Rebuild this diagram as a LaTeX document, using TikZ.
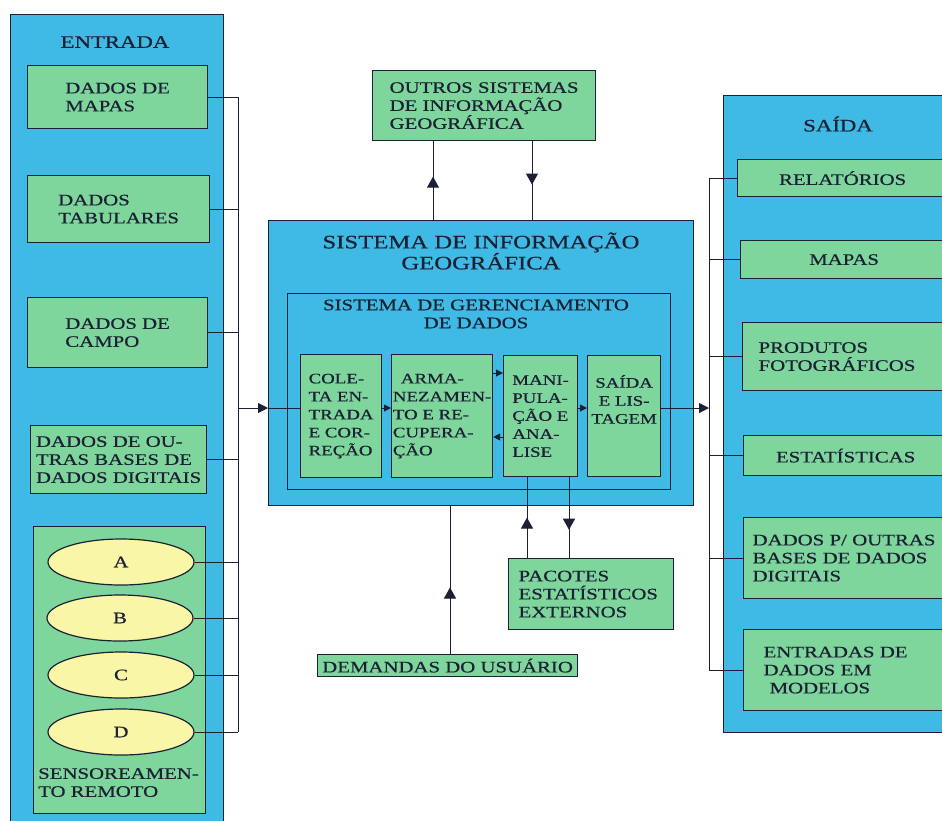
\documentclass[tikz,border=0pt]{standalone}
\usepackage{fontspec}
\setmainfont{Liberation Serif}[FakeStretch=1.3, FakeBold=0.6]
\usetikzlibrary{arrows.meta,decorations.markings,shapes.geometric,positioning}

\definecolor{panelblue}{RGB}{62,186,228}
\definecolor{boxgreen}{RGB}{126,214,156}
\definecolor{ovalyellow}{RGB}{250,246,168}
\definecolor{inkblue}{RGB}{28,32,52}

\newcommand{\gisfont}{\fontsize{16}{18}\selectfont}
\newcommand{\gissmall}{\fontsize{14.5}{18}\selectfont}
\newcommand{\gistitle}{\fontsize{19}{21}\selectfont}
\newcommand{\gishead}{\fontsize{17.5}{20}\selectfont}

\begin{document}
\begin{tikzpicture}[x=1pt, y=-1pt,
    panel/.style={draw=inkblue, line width=1.2pt, fill=panelblue, inner sep=0pt, anchor=north west},
    gbox/.style={draw=inkblue, line width=1.2pt, fill=boxgreen, inner sep=0pt, anchor=north west,
      font=\gisfont, text=inkblue, align=left},
    oval/.style={ellipse, draw=inkblue, line width=1.2pt, fill=ovalyellow, inner sep=0pt,
      minimum width=146pt, minimum height=46pt, font=\gisfont, text=inkblue},
    wire/.style={draw=inkblue, line width=1pt},
    tip/.style={-{Triangle[width=10pt,length=10pt]}},
    smalltip/.style={-{Triangle[width=7pt,length=7pt]}},
    midarrow/.style={postaction={decorate}, decoration={markings,
      mark=at position #1 with {\arrow{Triangle[width=12pt,length=11pt]}}}}]
    \useasboundingbox (0,0) rectangle (942,820);
    \clip (0,0) rectangle (942,820);

    % entrada
    \node[panel, minimum width=213pt, minimum height=830pt] (entrada) at (10,14) {};
    \node[font=\gishead, text=inkblue] (entradaT) at (115,42) {ENTRADA};
    \node[gbox, minimum width=180pt, minimum height=63pt] (mapas) at (27,65) {DADOS DE\\MAPAS};
    \node[gbox, minimum width=182pt, minimum height=67pt] (tabul) at (27,175) {DADOS\\TABULARES};
    \node[gbox, minimum width=180pt, minimum height=70pt] (campo) at (27,297) {DADOS DE\\CAMPO};
    \node[gbox, minimum width=176pt, minimum height=68pt] (outras) at (30,425) {DADOS DE OU-\\TRAS BASES DE\\DADOS DIGITAIS};
    \node[gbox, minimum width=172pt, minimum height=287pt] (sensor) at (33,526) {};
    \node[oval] (sA) at (121,562) {A};
    \node[oval] (sB) at (120,618) {B};
    \node[oval] (sC) at (121,675) {C};
    \node[oval] (sD) at (121,732) {D};
    \node[font=\gisfont, text=inkblue, align=left, anchor=north west, inner sep=0pt] (sensorT) at (38,768) {SENSOREAMEN-\\TO REMOTO};

    % bus of the inputs
    \coordinate (inbus) at (238,408);
    \foreach \n in {mapas,tabul,campo,outras,sA,sB,sC,sD}
        \draw[wire] (\n.east) -- (\n.east -| inbus);
    \draw[wire] (mapas.east -| inbus) -- (sD.east -| inbus);

    % outros sistemas
    \node[gbox, minimum width=223pt, minimum height=70pt] (outros) at (372,70) {OUTROS SISTEMAS\\DE INFORMAÇÃO\\GEOGRÁFICA};

    % sistema de informacao geografica
    \node[panel, minimum width=425pt, minimum height=285pt] (sig) at (268,220) {};
    \node[font=\gistitle, text=inkblue, align=center] (sigT) at (481,251) {SISTEMA DE INFORMAÇÃO\\GEOGRÁFICA};
    \node[panel, minimum width=383pt, minimum height=196pt] (sgd) at (287,293) {};
    \node[font=\gisfont, text=inkblue, align=center] (sgdT) at (476,314) {SISTEMA DE GERENCIAMENTO\\DE DADOS};
    \node[gbox, font=\gissmall, minimum width=81pt, minimum height=123pt] (coleta) at (300,354) {COLE-\\TA EN-\\TRADA\\E COR-\\REÇÃO};
    \node[gbox, font=\gissmall, minimum width=101pt, minimum height=123pt] (armaz) at (391,354) {\hspace{8pt}ARMA-\\NEZAMEN-\\TO E RE-\\CUPERA-\\ÇÃO};
    \node[gbox, font=\gissmall, minimum width=74pt, minimum height=121pt] (manip) at (503,355) {MANI-\\PULA-\\ÇÃO E\\ANA-\\LISE};
    \node[gbox, minimum width=73pt, minimum height=121pt] (saida) at (587,355) {};
    \node[font=\gissmall, text=inkblue, align=center, anchor=north, inner sep=0pt] (saidaT) at ([yshift=-20pt]saida.north) {SAÍDA\\E LIS-\\TAGEM};

    \coordinate (rowup) at (0,373);
    \coordinate (rowlo) at (0,437);
    \coordinate (outbus) at (709,408);
    \draw[wire, tip] (inbus) -- (inbus -| sig.west);
    \draw[wire] (inbus -| sig.west) -- (inbus -| coleta.west);
    \draw[wire, smalltip] (coleta.east |- inbus) -- (armaz.west |- inbus);
    \draw[wire, smalltip] (armaz.east |- rowup) -- (manip.west |- rowup);
    \draw[wire, smalltip] (manip.west |- rowlo) -- (armaz.east |- rowlo);
    \draw[wire, smalltip] (manip.east |- inbus) -- (saida.west |- inbus);
    \draw[wire, tip] (saida.east |- inbus) -- (outbus);

    % links above and below
    \coordinate (oUp) at (433,0);
    \coordinate (oDn) at (532,0);
    \draw[wire, midarrow=0.55] (sig.north -| oUp) -- (outros.south -| oUp);
    \draw[wire, midarrow=0.55] (outros.south -| oDn) -- (sig.north -| oDn);

    \node[gbox, minimum width=165pt, minimum height=71pt, text width=145pt] (pacotes) at (508,558) {PACOTES\\ESTATÍSTICOS\\EXTERNOS};
    \coordinate (pUp) at (527,0);
    \coordinate (pDn) at (569,0);
    \draw[wire, midarrow=0.5] (pacotes.north -| pUp) -- (manip.south -| pUp);
    \draw[wire, midarrow=0.65] (manip.south -| pDn) -- (pacotes.north -| pDn);

    \node[gbox, minimum width=260pt, minimum height=22pt] (demandas) at (317,654) {DEMANDAS DO USUÁRIO};
    \coordinate (dUp) at (450,0);
    \draw[wire, midarrow=0.45] (demandas.north -| dUp) -- (sig.south -| dUp);

    % saida
    \node[panel, minimum width=240pt, minimum height=637pt] (saidaP) at (723,95) {};
    \node[font=\gishead, text=inkblue] (saidaPT) at (838,124) {SAÍDA};
    \node[gbox, minimum width=210pt, minimum height=37pt] (rel) at (737,159) {RELATÓRIOS};
    \node[gbox, minimum width=207pt, minimum height=38pt] (mapasS) at (740,240) {MAPAS};
    \node[gbox, minimum width=205pt, minimum height=68pt, text width=173pt] (prod) at (742,322) {PRODUTOS\\FOTOGRÁFICOS};
    \node[gbox, minimum width=204pt, minimum height=40pt] (estat) at (743,435) {ESTATÍSTICAS};
    \node[gbox, minimum width=204pt, minimum height=81pt, text width=186pt] (dadosP) at (743,517) {DADOS P/ OUTRAS\\BASES DE DADOS\\DIGITAIS};
    \node[gbox, minimum width=204pt, minimum height=81pt, text width=164pt] (entr) at (743,629) {ENTRADAS DE\\DADOS EM\\\hspace{6pt}MODELOS};

    \foreach \n in {rel,mapasS,prod,estat,dadosP,entr}
        \draw[wire] (\n.west) -- (\n.west -| outbus);
    \draw[wire] (rel.west -| outbus) -- (entr.west -| outbus);
\end{tikzpicture}
\end{document}
